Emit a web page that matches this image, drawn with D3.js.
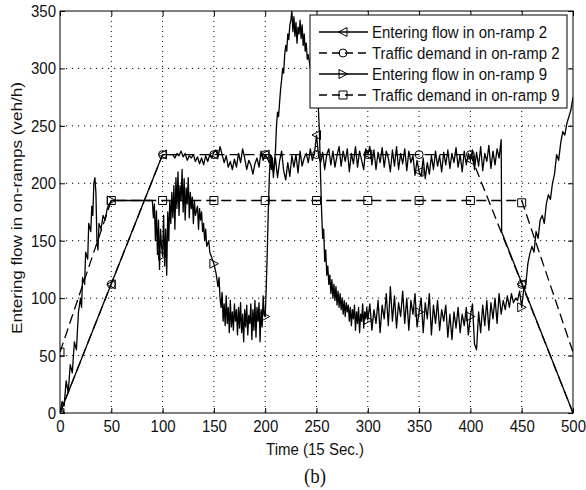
<!DOCTYPE html>
<html><head><meta charset="utf-8">
<script src="https://cdn.jsdelivr.net/npm/d3@7"></script>
<style>body{margin:0;background:#fff}svg{display:block}text{font-family:"Liberation Sans",Arial,sans-serif;fill:#111}</style>
</head><body>
<svg id="c" width="586" height="490"></svg>
<script>
const xTicks=[0,50,100,150,200,250,300,350,400,450,500];
const yTicks=[0,50,100,150,200,250,300,350];
const seriesNames=["Entering flow in on-ramp 2","Traffic demand in on-ramp 2","Entering flow in on-ramp 9","Traffic demand in on-ramp 9"];

const demand2=[[0,0],[100,225],[400,225],[500,0]];
const demand9=[[0,53],[50,185],[450,185],[500,53]];
const flow2=[[0,0],[100,225],[110,225],[112,222],[114,226],[116,224],[118,228],[120,223],[122,226],[124,220],[126,224],[128,222],[130,225],[132,219],[134,223],[136,217],[138,222],[140,216],[142,224],[144,219],[146,225],[148,222],[150,227],[152,229],[154,223],[156,232],[158,225],[160,218],[162,224],[164,214],[166,219],[168,212],[170,221],[172,214],[174,226],[176,218],[178,230],[180,222],[182,212],[184,220],[186,216],[188,208],[190,217],[192,222],[194,214],[196,228],[198,220],[200,225],[202,222],[204,218],[206,224],[208,209],[210,222],[212,205],[214,219],[216,228],[218,211],[220,203],[222,218],[224,206],[226,224],[228,214],[230,225],[232,209],[234,228],[236,215],[238,222],[240,226],[242,218],[244,230],[246,220],[248,226],[250,242],[252,224],[254,218],[256,227],[258,212],[260,225],[262,230],[264,216],[266,228],[268,214],[270,224],[272,232],[274,215],[276,228],[278,219],[280,230],[282,210],[284,226],[286,217],[288,232],[290,214],[292,228],[294,220],[296,212],[298,230],[300,225],[302,232],[304,216],[306,229],[308,212],[310,227],[312,218],[314,231],[316,214],[318,228],[320,222],[322,210],[324,229],[326,215],[328,232],[330,212],[332,226],[334,217],[336,230],[338,211],[340,228],[342,218],[344,224],[346,207],[348,220],[350,210],[352,206],[354,222],[356,204],[358,218],[360,208],[362,224],[364,212],[366,228],[368,215],[370,224],[372,210],[374,227],[376,216],[378,229],[380,213],[382,226],[384,218],[386,231],[388,214],[390,225],[392,210],[394,228],[396,216],[398,226],[400,220],[402,229],[404,212],[406,227],[408,215],[410,232],[412,211],[414,226],[416,219],[418,233],[420,213],[422,228],[424,216],[426,230],[428,222],[430,238],[430.5,157.5],[500,0]];
const flow9=[[0,0],[2,10],[4,6],[6,28],[8,18],[10,42],[12,35],[14,62],[16,55],[18,88],[20,100],[21,92],[22,118],[24,112],[25,140],[27,134],[28,165],[30,158],[31,180],[32,172],[33,200],[34,205],[35,192],[36,150],[37,142],[38,165],[40,160],[42,172],[44,168],[46,178],[48,182],[50,185],[90,185],[91,170],[92,182],[93,150],[94,176],[95,138],[96,168],[97,125],[98,160],[99,145],[100,137],[101,172],[102,128],[103,160],[104,120],[105,175],[106,150],[107,185],[108,165],[109,192],[110,170],[111,198],[112,160],[113,205],[114,178],[115,210],[116,172],[117,198],[118,185],[119,212],[120,175],[121,204],[122,168],[123,196],[124,182],[125,205],[126,170],[127,192],[128,178],[129,188],[130,165],[131,185],[132,172],[134,180],[135,160],[136,178],[137,168],[138,175],[139,158],[140,165],[141,150],[142,160],[143,145],[145,150],[146,140],[148,135],[150,130],[152,122],[154,110],[155,118],[156,100],[157,92],[158,105],[159,80],[160,95],[161,76],[162,102],[163,78],[164,92],[165,70],[166,98],[167,75],[168,88],[169,72],[170,95],[171,80],[172,90],[173,68],[174,92],[175,74],[176,96],[177,70],[178,86],[179,62],[180,90],[181,75],[182,94],[183,68],[184,85],[185,78],[186,95],[187,64],[188,90],[189,72],[190,98],[191,66],[192,92],[193,80],[194,96],[195,62],[196,90],[197,75],[198,102],[199,85],[200,84],[201,108],[202,140],[203,175],[204,205],[205,225],[206,212],[207,222],[208,205],[209,218],[210,228],[211,250],[212,262],[213,258],[214,270],[215,282],[216,290],[217,300],[218,296],[219,312],[220,320],[221,315],[222,330],[223,325],[224,338],[225,342],[226,350],[227,332],[228,345],[229,328],[230,340],[231,322],[232,336],[233,330],[234,342],[235,326],[236,338],[237,320],[238,330],[239,315],[240,322],[241,308],[242,312],[244,300],[246,302],[248,298],[250,300],[251,290],[252,262],[253,240],[254,205],[255,175],[256,152],[257,160],[258,132],[259,142],[260,120],[261,128],[262,112],[263,120],[264,104],[265,116],[266,100],[267,112],[268,98],[269,110],[270,94],[271,106],[272,92],[273,104],[274,90],[275,100],[276,86],[277,98],[278,84],[279,96],[280,88],[281,94],[282,80],[283,92],[284,76],[285,90],[286,82],[287,94],[288,72],[289,88],[290,78],[291,92],[292,70],[293,86],[294,80],[295,95],[296,74],[297,88],[298,82],[299,92],[300,81],[302,95],[304,72],[306,90],[308,78],[310,98],[312,70],[314,94],[316,82],[318,104],[320,76],[322,110],[324,80],[326,102],[328,74],[330,96],[332,84],[334,106],[336,78],[338,100],[340,72],[342,98],[344,86],[346,104],[348,75],[350,88],[352,100],[354,70],[356,96],[358,82],[360,104],[362,68],[364,94],[366,78],[368,98],[370,72],[372,90],[374,80],[376,94],[378,66],[380,86],[382,64],[384,88],[386,74],[388,92],[390,70],[392,86],[394,76],[396,92],[398,68],[400,84],[402,95],[404,60],[406,55],[408,88],[410,70],[412,94],[414,76],[416,98],[418,72],[420,96],[422,82],[424,100],[426,78],[428,104],[430,86],[432,98],[434,90],[436,102],[438,92],[440,104],[442,96],[444,100],[446,98],[448,106],[450,92],[452,108],[454,112],[456,130],[458,139],[460,145],[462,140],[464,158],[466,152],[468,168],[470,172],[472,165],[474,182],[476,190],[478,186],[480,200],[482,208],[484,225],[486,220],[488,235],[490,245],[492,242],[494,252],[496,258],[498,264],[500,275]];

const markers2Flow=[[0,0],[50,112],[100,225],[150,225],[200,225],[250,242],[300,225],[350,210],[400,220],[450,112]];
const markers2Dem=[[0,0],[50,112],[100,225],[150,225],[200,225],[250,225],[300,225],[350,225],[400,225],[450,112]];
const markers9Flow=[[0,0],[50,185],[100,137],[150,130],[200,84],[250,300],[300,81],[350,88],[400,84],[450,92]];
const markers9Dem=[[0,53],[50,185],[100,185],[150,185],[200,185],[250,185],[300,185],[350,185],[400,185],[450,183]];

const SY=1.14;
const svg=d3.select("#c");
const L=60,R=573,T=11,B=413;
const x=d3.scaleLinear().domain([0,500]).range([L,R]);
const y=d3.scaleLinear().domain([0,350]).range([B,T]);

svg.append("rect").attr("width",586).attr("height",490).attr("fill","#fff");
svg.append("defs").append("clipPath").attr("id","clip").append("rect").attr("x",L).attr("y",T).attr("width",R-L).attr("height",B-T);

// grid
const g=svg.append("g");
g.selectAll(".gx").data(xTicks.slice(1,-1)).join("line").attr("x1",d=>x(d)).attr("x2",d=>x(d)).attr("y1",T).attr("y2",B).attr("stroke","#000").attr("stroke-width",1).attr("stroke-dasharray","1,4");
g.selectAll(".gy").data(yTicks.slice(1,-1)).join("line").attr("y1",d=>y(d)).attr("y2",d=>y(d)).attr("x1",L).attr("x2",R).attr("stroke","#000").attr("stroke-width",1).attr("stroke-dasharray","1.2,4.8");

// axes
const ax=svg.append("g").attr("transform",`translate(0,${B})`).call(d3.axisBottom(x).tickValues(xTicks).tickSize(-5).tickPadding(6));
const axT=svg.append("g").attr("transform",`translate(0,${T})`).call(d3.axisTop(x).tickValues(xTicks).tickSize(-5).tickFormat(""));
const ay=svg.append("g").attr("transform",`translate(${L},0)`).call(d3.axisLeft(y).tickValues(yTicks).tickSize(-5).tickPadding(4));
const ayR=svg.append("g").attr("transform",`translate(${R},0)`).call(d3.axisRight(y).tickValues(yTicks).tickSize(-5).tickFormat(""));
[ax,axT,ay,ayR].forEach(a=>{a.select(".domain").remove();a.selectAll("line").attr("stroke","#000");a.selectAll("text").attr("font-size",15).attr("font-family","'Liberation Sans',Arial,sans-serif").attr("fill","#111").attr("transform",`scale(1,${SY})`);});
ax.selectAll("text").attr("dy","0.71em");
svg.append("rect").attr("x",L).attr("y",T).attr("width",R-L).attr("height",B-T).attr("fill","none").attr("stroke","#000").attr("stroke-width",1);

// series
const line=d3.line().x(d=>x(d[0])).y(d=>y(d[1]));
const pg=svg.append("g").attr("clip-path","url(#clip)");
const LW=1.3, DASH="10,5";
pg.append("path").datum(demand2).attr("d",line).attr("fill","none").attr("stroke","#000").attr("stroke-width",LW).attr("stroke-dasharray",DASH);
pg.append("path").datum(demand9).attr("d",line).attr("fill","none").attr("stroke","#000").attr("stroke-width",LW).attr("stroke-dasharray",DASH);
pg.append("path").datum(flow2).attr("d",line).attr("fill","none").attr("stroke","#000").attr("stroke-width",LW).attr("stroke-linejoin","round");
pg.append("path").datum(flow9).attr("d",line).attr("fill","none").attr("stroke","#000").attr("stroke-width",LW).attr("stroke-linejoin","round");

const sym={
 left:"M-4.5,0L4,-4.5L4,4.5Z",
 right:"M4.5,0L-4,-4.5L-4,4.5Z",
 circle:d3.symbol().type(d3.symbolCircle).size(50)(),
 square:"M-4,-4H4V4H-4Z"
};
function marks(data,shape){
 pg.selectAll(null).data(data).join("path").attr("d",sym[shape]).attr("transform",d=>`translate(${x(d[0])},${y(d[1])})`).attr("fill","none").attr("stroke","#000").attr("stroke-width",1);
}
marks(markers2Flow,"left");marks(markers2Dem,"circle");marks(markers9Flow,"right");marks(markers9Dem,"square");

// legend
const lg=svg.append("g");
lg.append("rect").attr("x",310).attr("y",15).attr("width",257).attr("height",93).attr("fill","#fff").attr("stroke","#000");
const shapes=["left","circle","right","square"];
const dashes=[null,"8,5",null,"8,5"];
seriesNames.forEach((n,i)=>{
 const yy=32+i*21;
 lg.append("line").attr("x1",319).attr("x2",368).attr("y1",yy).attr("y2",yy).attr("stroke","#000").attr("stroke-width",LW).attr("stroke-dasharray",dashes[i]);
 lg.append("path").attr("d",sym[shapes[i]]).attr("transform",`translate(343,${yy})`).attr("fill","none").attr("stroke","#000");
 lg.append("text").attr("transform",`translate(372,${yy}) scale(1,${SY})`).attr("dy","0.36em").attr("font-size",15).text(n);
});

// labels
svg.append("text").attr("transform",`translate(22,208) rotate(-90) scale(${SY},1)`).attr("text-anchor","middle").attr("font-size",15).text("Entering flow in on-ramps (veh/h)");
svg.append("text").attr("transform",`translate(315,455) scale(1,${SY})`).attr("text-anchor","middle").attr("font-size",15).text("Time (15 Sec.)");
svg.append("text").attr("transform",`translate(315,483) scale(1,${SY})`).attr("text-anchor","middle").attr("font-size",19).style("font-family","'Liberation Serif','Times New Roman',serif").text("(b)");
</script>
</body></html>
